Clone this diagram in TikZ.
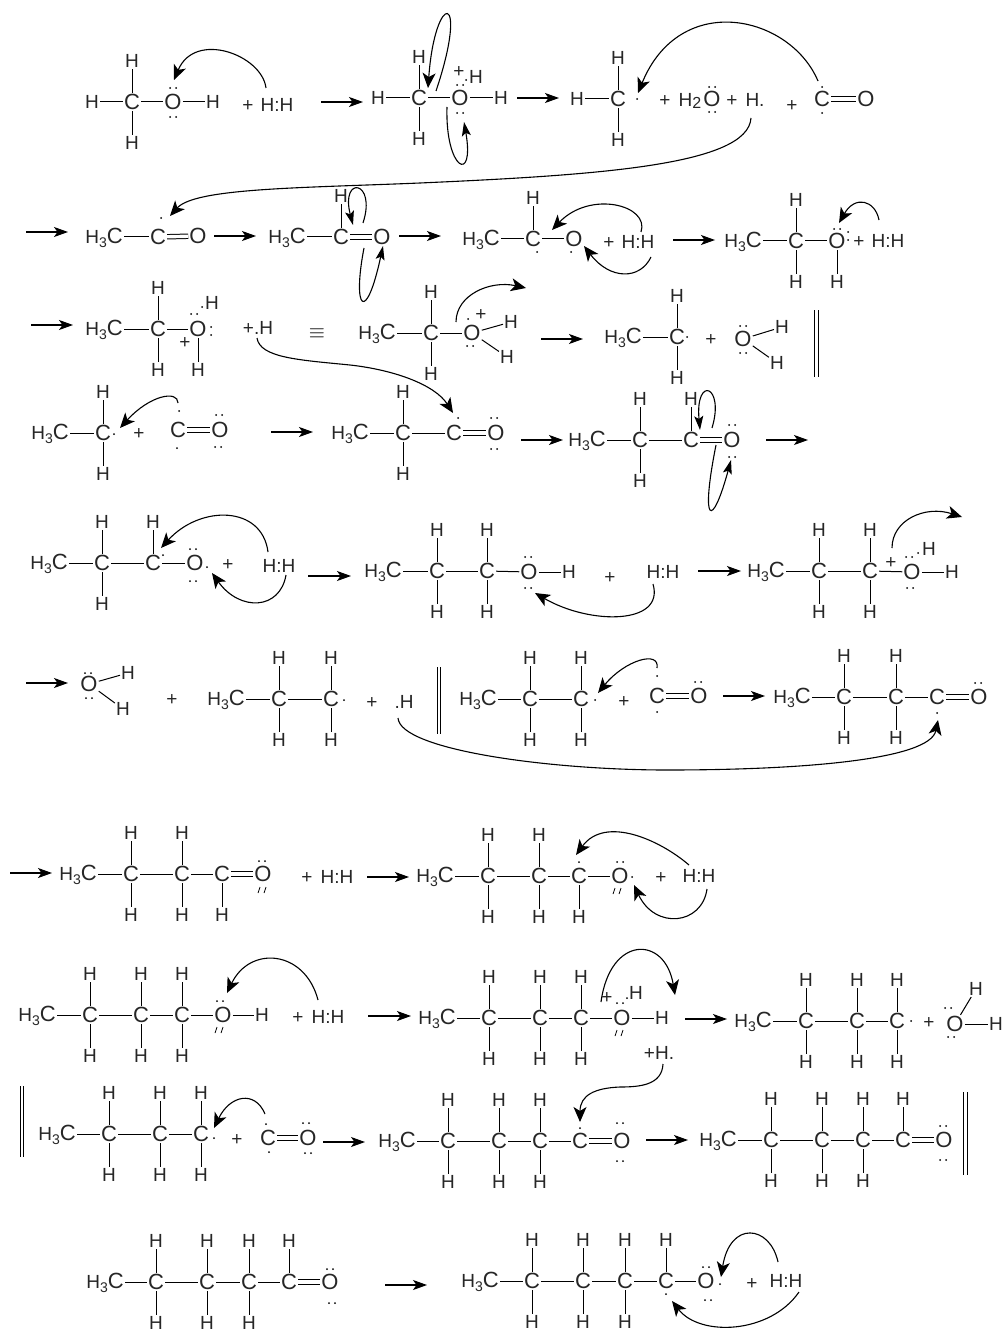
\documentclass[tikz,border=0pt]{standalone}
\usepackage{fontspec}
\setmainfont{Liberation Sans}
\usetikzlibrary{arrows.meta}
\tikzset{
  hatom/.style={inner sep=1pt,text=black!85,font=\fontsize{19}{20}\selectfont,text height=13.6pt,text depth=0pt},
  catom/.style={inner sep=1pt,text=black!85,font=\fontsize{22}{23}\selectfont,text height=15.7pt,text depth=0pt},
  bond/.style={line width=1pt},
  dblbond/.style={line width=1pt,double,double distance=3.4pt},
  rxnarrow/.style={line width=1.1pt,-{Stealth[length=14pt,width=10pt,inset=3.5pt]}},
  pusharrow/.style={line width=1.1pt,-{Stealth[length=15pt,width=13pt,inset=4pt]}},
  smalltip/.style={-{Stealth[length=14pt,width=9pt,inset=3pt]}},
}
\newcommand{\nH}[3]{\node[hatom] (#1) at (#2,#3) {H};}
\newcommand{\nC}[3]{\node[catom] (#1) at (#2,#3) {C};}
\newcommand{\nO}[3]{\node[catom] (#1) at (#2,#3) {O};}
\newcommand{\nT}[4]{\node[hatom] (#1) at (#2,#3) {#4};}
\newcommand{\nM}[3]{\node[hatom,anchor=east] (#1) at (#2,#3) {H\lower4pt\hbox{\fontsize{14}{14}\selectfont 3}\fontsize{22}{23}\selectfont C};}
\newcommand{\cU}[3]{\nC{#1}{#2}{#3}\nH{#1u}{#2}{#3-41}\draw[bond] (#1) -- (#1u);}
\newcommand{\cD}[3]{\nC{#1}{#2}{#3}\nH{#1d}{#2}{#3+41}\draw[bond] (#1) -- (#1d);}
\newcommand{\cUD}[3]{\cU{#1}{#2}{#3}\nH{#1d}{#2}{#3+41}\draw[bond] (#1) -- (#1d);}
\newcommand{\bonds}[1]{\foreach \a/\b in {#1} {\draw[bond] (\a) -- (\b);}}
\newcommand{\dbond}[2]{\draw[dblbond] (#1) -- (#2);}
\newcommand{\rd}[2]{\fill (#1,#2) circle (1);}
\newcommand{\lp}[2]{\fill (#1-3,#2) circle (1) (#1+3,#2) circle (1);}
\newcommand{\lpv}[2]{\fill (#1,#2-4) circle (1) (#1,#2+4) circle (1);}
\newcommand{\primes}[2]{\draw[line width=.8pt] (#1-4,#2+3) -- (#1-2,#2-3) (#1+2,#2+3) -- (#1+4,#2-3);}
\newcommand{\rxn}[4]{\coordinate (#1s) at (#2,#4); \coordinate (#1e) at (#3,#4); \draw[rxnarrow] (#1s) -- (#1e);}
\newcommand{\push}[6][]{\coordinate (#2s) at (#3); \coordinate (#2e) at (#6); \draw[pusharrow,#1] (#2s) .. controls (#4) and (#5) .. (#2e);}
\newcommand{\bars}[4]{\coordinate (#1t) at (#2,#3); \coordinate (#1b) at (#2,#4); \draw[dblbond,line width=.9pt,double distance=2.8pt] (#1t) -- (#1b);}
\begin{document}
\begin{tikzpicture}[x=1pt,y=-1pt]
\useasboundingbox (0,0) rectangle (1005,1332);
% row 1
\nH{a1}{92}{102} \cUD{a2}{132}{102} \nO{a3}{173}{102} \nH{a4}{213}{102}
\bonds{a1/a2,a2/a3,a3/a4}
\lp{173}{88} \lp{173}{117}
\nT{a5}{248}{105}{+} \nT{a6}{277}{105}{H:H}
\push{p1}{266,88}{262,55}{195,30}{174,80}
\rxn{r1}{321}{363}{102}
\nH{b1}{378}{98} \cUD{b2}{419}{98} \nO{b3}{460}{98} \nH{b4}{501}{98}
\bonds{b1/b2,b2/b3,b3/b4}
\lp{460}{85} \lp{460}{113}
\nT{b5}{459}{71}{+} \rd{466}{80} \nH{b6}{476}{77}
\push{p2}{436,91}{470,-10}{435,-10}{428,88}
\push[smalltip]{p3}{447,107}{445,170}{475,185}{464,122}
\rxn{r2}{517}{559}{98}
\nH{c1}{577}{99} \cUD{c2}{618}{99} \bonds{c1/c2} \rd{637}{99}
\nT{c3}{665}{100}{+} \node[hatom] (c4) at (690,100) {H\lower2pt\hbox{\fontsize{16}{16}\selectfont 2}};
\nO{c5}{712}{99} \lp{712}{87} \lp{712}{112}
\nT{c6}{732}{100}{+} \nT{c7}{755}{100}{H.} \nT{c8}{792}{105}{+}
\nC{c9}{822}{99} \nO{c10}{866}{99} \dbond{c9}{c10}
\rd{822}{87} \rd{822}{113}
\push{p4}{818,81}{790,15}{680,-10}{638,93}
\coordinate (p5s) at (751,118); \coordinate (p5e) at (170,216);
\draw[pusharrow] (p5s) .. controls (748,165) and (600,175) .. (420,183) .. controls (300,188) and (195,188) .. (p5e);
% row 2
\rxn{r3}{26}{68}{232}
\nM{d1}{124}{237} \nC{d2}{158}{237} \nO{d3}{198}{236} \bonds{d1/d2} \dbond{d2}{d3} \rd{161}{218}
\rxn{r4}{214}{256}{236}
\nM{e1}{307}{237} \cU{e2}{341}{237} \nO{e3}{382}{237} \bonds{e1/e2} \dbond{e2}{e3}
\push[smalltip]{p6}{363,223}{377,180}{340,175}{353,225}
\push[smalltip]{p7}{364,248}{352,310}{366,325}{383,246}
\rxn{r5}{399}{441}{236}
\nM{f1}{501}{239} \cU{f2}{533}{239} \nO{f3}{574}{239} \bonds{f1/f2,f2/f3}
\rd{537}{252} \rd{571}{252}
\nT{f4}{609}{242}{+} \nT{f5}{638}{242}{H:H}
\push{p8}{641,232}{650,205}{590,190}{552,230}
\push{p9}{651,257}{640,280}{610,280}{584,246}
\rxn{r6}{673}{715}{240}
\nM{g1}{763}{241} \cUD{g2}{796}{241} \nO{g3}{837}{241} \nH{g4}{837}{282} \bonds{g1/g2,g2/g3,g3/g4}
\lp{837}{229} \lpv{848}{236}
\nT{g5}{859}{241}{+} \nT{g6}{888}{241}{H:H}
\push{p10}{879,220}{875,200}{855,195}{839,223}
% row 3
\rxn{r7}{31}{73}{325}
\nM{h1}{124}{329} \cUD{h2}{158}{329} \nO{h3}{198}{329} \nH{h4}{198}{370} \bonds{h1/h2,h2/h3,h3/h4}
\lp{194}{314} \rd{202}{307} \nH{h5}{212}{303} \lpv{211}{331} \nT{h6}{185}{342}{+}
\nT{h7}{258}{328}{+.H}
\node[hatom,text=black] (h8) at (317,332) {\fontsize{21}{22}\selectfont$\equiv$};
\nM{i1}{397}{333} \cUD{i2}{431}{333} \nO{i3}{472}{333} \nH{i4}{511}{322} \nH{i5}{507}{357}
\bonds{i1/i2,i2/i3,i3/i4,i3/i5}
\rd{468}{319} \nT{i6}{481}{314}{+} \lp{470}{346}
\push{p11}{456,322}{456,295}{490,280}{526,288}
\rxn{r8}{541}{583}{339}
\nM{j1}{643}{337} \cUD{j2}{677}{337} \bonds{j1/j2} \rd{687}{337} \nT{j3}{711}{339}{+}
\nO{j4}{743}{339} \nH{j5}{782}{327} \nH{j6}{777}{363} \bonds{j4/j5,j4/j6}
\lp{743}{326} \lp{743}{353}
\bars{s1}{816.5}{310}{377}
\coordinate (p12s) at (257,338); \coordinate (p12e) at (453,413);
\draw[pusharrow] (p12s) .. controls (260,358) and (300,360) .. (350,365) .. controls (395,370) and (435,385) .. (p12e);
% row 4
\nM{k1}{70}{433} \cUD{k2}{103}{433} \bonds{k1/k2} \rd{114}{434} \nT{k3}{139}{433}{+}
\nC{k4}{178}{430} \nO{k5}{220}{430} \dbond{k4}{k5} \rd{179}{411} \rd{177}{448} \lp{219}{415} \lp{218}{447}
\push{p13}{178,403}{178,390}{150,395}{120,428}
\rxn{r9}{271}{313}{432}
\nM{l1}{370}{433} \cUD{l2}{403}{433} \nC{l3}{454}{433} \nO{l4}{496}{433} \bonds{l1/l2,l2/l3} \dbond{l3}{l4}
\rd{458}{418} \lp{494}{418} \lp{494}{449}
\rxn{r10}{521}{563}{440}
\nM{m1}{607}{440} \cUD{m2}{640}{440} \cU{m3}{691}{440} \nO{m4}{732}{440} \bonds{m1/m2,m2/m3} \dbond{m3}{m4}
\lp{732}{425} \lp{732}{457}
\push[smalltip]{p14}{712,428}{725,385}{695,375}{700,430}
\push[smalltip]{p15}{716,445}{700,525}{712,530}{731,460}
\rxn{r11}{766}{808}{440}
% row 5
\nM{n1}{69}{563} \cUD{n2}{102}{563} \cU{n3}{153}{563} \nO{n4}{195}{563} \bonds{n1/n2,n2/n3,n3/n4}
\rd{163}{555} \lp{193}{549} \lp{193}{581} \rd{207}{567}
\nT{n5}{228}{564}{+} \nT{n6}{279}{566}{H:H}
\push{p16}{268,552}{262,505}{200,505}{161,548}
\push{p17}{286,575}{280,610}{240,612}{212,573}
\rxn{r12}{308}{351}{576}
\nM{o1}{403}{571} \cUD{o2}{437}{571} \cUD{o3}{487}{571} \nO{o4}{529}{572} \nH{o5}{569}{572} \bonds{o1/o2,o2/o3,o3/o4,o4/o5}
\lp{528}{557} \lp{528}{588}
\nT{o6}{610}{577}{+} \nT{o7}{663}{572}{H:H}
\push{p18}{653,584}{665,625}{590,625}{535,593}
\rxn{r13}{698}{741}{571}
\nM{q1}{786}{571} \cUD{q2}{819}{571} \cUD{q3}{870}{571} \nO{q4}{912}{572} \nH{q5}{952}{572} \bonds{q1/q2,q2/q3,q3/q4,q4/q5}
\nT{q6}{891}{562}{+} \lp{909}{557} \rd{918}{553} \nH{q7}{929}{549} \lp{910}{588}
\push{p19}{892,548}{892,520}{925,505}{962,517}
% row 6
\rxn{r14}{26}{68}{683}
\nO{t1}{89}{684} \nH{t2}{128}{673} \nH{t3}{123}{709} \bonds{t1/t2,t1/t3} \lp{88}{673} \lp{89}{698}
\nT{t4}{172}{699}{+}
\nM{u1}{246}{699} \cUD{u2}{279}{699} \cUD{u3}{331}{699} \bonds{u1/u2,u2/u3} \rd{344}{700}
\nT{u4}{372}{702}{+} \nT{u5}{404}{702}{.H}
\bars{s2}{439}{667}{734}
\nM{v1}{498}{699} \cUD{v2}{530}{699} \cUD{v3}{581}{699} \bonds{v1/v2,v2/v3} \rd{595}{700}
\nT{v4}{624}{701}{+} \nC{v5}{657}{696} \nO{v6}{699}{696} \dbond{v5}{v6}
\rd{657}{676} \rd{657}{712} \lp{698}{682}
\push{p21}{657,668}{660,650}{625,660}{598,693}
\rxn{r15}{723}{765}{696}
\nM{w1}{812}{697} \cUD{w2}{844}{697} \cUD{w3}{896}{697} \nC{w4}{937}{697} \nO{w5}{979}{697} \bonds{w1/w2,w2/w3,w3/w4} \dbond{w4}{w5}
\rd{937}{713} \lp{978}{683}
\coordinate (p20s) at (398,718); \coordinate (p20e) at (938,720);
\draw[pusharrow] (p20s) .. controls (400,750) and (550,770) .. (667,770) .. controls (800,770) and (930,760) .. (p20e);
% row 7
\rxn{r16}{10}{52}{873}
\nM{x1}{98}{874} \cUD{x2}{131}{874} \cUD{x3}{182}{874} \cD{x4}{222}{874} \nO{x5}{263}{874} \bonds{x1/x2,x2/x3,x3/x4} \dbond{x4}{x5}
\lp{262}{861} \primes{262}{890}
\nT{x6}{307}{877}{+} \nT{x7}{337}{877}{H:H}
\rxn{r17}{367}{409}{877}
\nM{y1}{455}{876} \cUD{y2}{488}{876} \cUD{y3}{539}{876} \cD{y4}{579}{876} \nO{y5}{620}{876} \bonds{y1/y2,y2/y3,y3/y4,y4/y5}
\rd{579}{862} \lp{620}{862} \primes{617}{891} \rd{632}{877}
\nT{y6}{661}{877}{+} \nT{y7}{699}{876}{H:H}
\push{p22}{689,865}{660,840}{605,815}{576,855}
\push{p23}{707,889}{702,925}{655,930}{634,885}
% row 8
\nM{z1}{57}{1015} \cUD{z2}{90}{1015} \cUD{z3}{141}{1015} \cUD{z4}{182}{1015} \nO{z5}{223}{1015} \nH{z6}{262}{1015}
\bonds{z1/z2,z2/z3,z3/z4,z4/z5,z5/z6}
\lp{220}{1001} \primes{219}{1030}
\nT{z7}{298}{1017}{+} \nT{z8}{328}{1017}{H:H}
\push{p24}{318,1000}{305,950}{250,945}{227,993}
\rxn{r18}{368}{411}{1016}
\nM{aa1}{457}{1018} \cUD{aa2}{489}{1018} \cUD{aa3}{540}{1018} \cUD{aa4}{581}{1018} \nO{aa5}{622}{1018} \nH{aa6}{662}{1018}
\bonds{aa1/aa2,aa2/aa3,aa3/aa4,aa4/aa5,aa5/aa6}
\lp{620}{1003} \rd{627}{998} \nH{aa7}{636}{993} \nT{aa8}{607}{997}{+} \primes{619}{1033}
\push{p25}{601,1002}{610,935}{665,935}{675,995}
\rxn{r19}{685}{727}{1019}
\nM{ab1}{773}{1021} \cUD{ab2}{806}{1021} \cUD{ab3}{857}{1021} \cUD{ab4}{897}{1021} \bonds{ab1/ab2,ab2/ab3,ab3/ab4}
\rd{911}{1021} \nT{ab5}{929}{1022}{+}
\nO{ab6}{955}{1024} \nH{ab7}{976}{989} \nH{ab8}{996}{1024} \bonds{ab6/ab7,ab6/ab8} \lp{948}{1008} \lp{951}{1037}
\nT{ab9}{659}{1053}{+H.}
\coordinate (p26s) at (663,1064); \coordinate (p26e) at (580,1122);
\draw[pusharrow] (p26s) .. controls (662,1085) and (640,1087) .. (620,1087) .. controls (595,1088) and (580,1095) .. (p26e);
% row 9
\bars{s3}{22}{1086}{1157}
\nM{ac1}{77}{1134} \cUD{ac2}{109}{1134} \cUD{ac3}{160}{1134} \cUD{ac4}{201}{1134} \bonds{ac1/ac2,ac2/ac3,ac3/ac4}
\rd{214}{1138} \nT{ac5}{237}{1139}{+}
\nC{ac6}{268}{1138} \nO{ac7}{308}{1138} \dbond{ac6}{ac7} \rd{266}{1124} \rd{269}{1152} \lp{306}{1123} \lp{308}{1153}
\push{p27}{265,1114}{255,1090}{230,1095}{214,1128}
\rxn{r20}{323}{365}{1142}
\nM{ad1}{417}{1141} \cUD{ad2}{448}{1141} \cUD{ad3}{499}{1141} \cUD{ad4}{540}{1141} \nC{ad5}{580}{1141} \nO{ad6}{622}{1141}
\bonds{ad1/ad2,ad2/ad3,ad3/ad4,ad4/ad5} \dbond{ad5}{ad6} \rd{580}{1128} \lp{620}{1123} \lp{620}{1161}
\rxn{r21}{646}{688}{1140}
\nM{ae1}{738}{1140} \cUD{ae2}{771}{1140} \cUD{ae3}{822}{1140} \cUD{ae4}{863}{1140} \cU{ae5}{903}{1140} \nO{ae6}{944}{1140}
\bonds{ae1/ae2,ae2/ae3,ae3/ae4,ae4/ae5} \dbond{ae5}{ae6} \lp{943}{1126} \lp{943}{1160}
\bars{s4}{965.5}{1092}{1175}
% row 10
\nM{af1}{125}{1282} \cUD{af2}{156}{1282} \cUD{af3}{207}{1282} \cUD{af4}{249}{1282} \cU{af5}{289}{1282} \nO{af6}{330}{1282}
\bonds{af1/af2,af2/af3,af3/af4,af4/af5} \dbond{af5}{af6} \lp{330}{1269} \lp{332}{1303}
\rxn{r22}{385}{427}{1285}
\nM{ag1}{500}{1281} \cUD{ag2}{532}{1281} \cUD{ag3}{583}{1281} \cUD{ag4}{625}{1281} \cU{ag5}{666}{1281} \nO{ag6}{706}{1281} \bonds{ag1/ag2,ag2/ag3,ag3/ag4,ag4/ag5,ag5/ag6}
\rd{666}{1294} \lp{706}{1267} \lp{708}{1300} \rd{720}{1284}
\nT{ag7}{752}{1283}{+} \nT{ag8}{786}{1281}{H:H}
\push{p28}{778,1262}{770,1225}{730,1220}{721,1277}
\push{p29}{799,1292}{770,1334}{700,1337}{672,1301}
\end{tikzpicture}
\end{document}
